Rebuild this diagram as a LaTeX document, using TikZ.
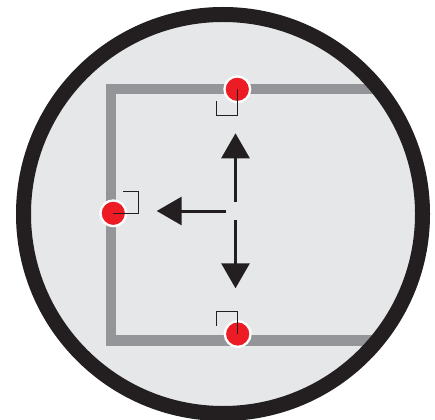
\documentclass[tikz,border=0pt]{standalone}
\usepackage{xcolor}
\usepackage{tikz}
\usetikzlibrary{arrows.meta}
\definecolor{panel}{HTML}{E6E7E8}
\definecolor{wall}{HTML}{939598}
\definecolor{ink}{HTML}{231F20}
\definecolor{pin}{HTML}{ED1C24}
\tikzstyle{dot} = [circle, fill=pin, draw=white, line width=2.3pt, inner sep=0pt,
minimum size=25.7pt]
\tikzstyle{wallline} = [draw=wall, line width=10.5pt, line join=miter]
\tikzstyle{marker} = [draw=ink, line width=1.3pt, line join=miter]
\tikzstyle{arrow1} = [draw=ink, line width=3pt, -{Triangle[length=25pt,width=28pt]}]

\begin{document}
\begin{tikzpicture}[x=1pt, y=-1pt]
\useasboundingbox (0,0) rectangle (435,419);

% Place frame
\coordinate (mid) at (223,214);
\fill [panel] (mid) circle (207);
\begin{scope}
\clip (mid) circle (199);
\draw [wallline] (420,89) -- (111,89) -- (111,340.5) -- (420,340.5);
\end{scope}

% Place nodes
\node [dot](topdot) at (237.3,89.3){};
\node [dot](leftdot) at (113.3,213.3){};
\node [dot](botdot) at (237.7,334){};

% Place markers
\draw [marker] (topdot.center) -- ++(0,26) -| ++(-21,-14);
\draw [marker] (leftdot.center) -- ++(25,0) |- ++(-15,-21.5);
\draw [marker] (botdot.center) -- ++(0,-22.3) -| ++(-21,14.3);

% Place arrows
\coordinate (upfrom) at (235.5,201.7);
\coordinate (upto) at (235.5,133.3);
\coordinate (leftfrom) at (226,211);
\coordinate (leftto) at (156.7,211);
\coordinate (downfrom) at (235.5,220);
\coordinate (downto) at (235.5,288.3);
\draw [arrow1] (upfrom) -- (upto);
\draw [arrow1] (leftfrom) -- (leftto);
\draw [arrow1] (downfrom) -- (downto);

% Place ring
\draw [ink, line width=15pt] (mid) circle (199.5);

\end{tikzpicture}
\end{document}
